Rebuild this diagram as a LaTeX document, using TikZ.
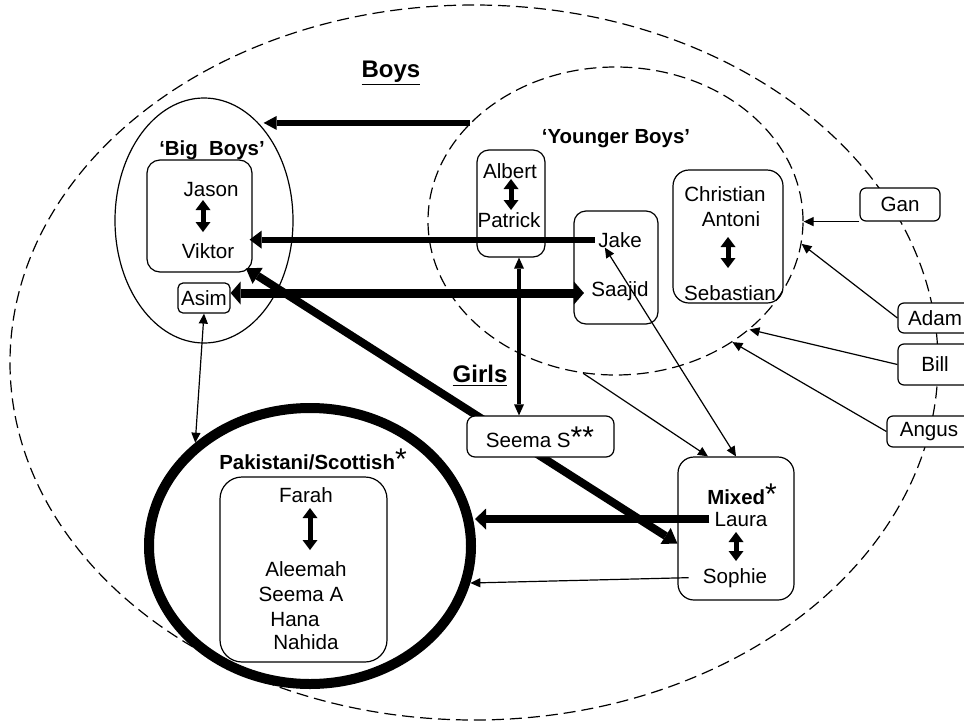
\documentclass[tikz,border=0pt]{standalone}
\usepackage{fontspec}
\setmainfont{Liberation Sans}
\usetikzlibrary{arrows.meta,shapes.geometric}
\newcommand{\myast}{{\fontsize{15pt}{15pt}\selectfont\mdseries *}}
\begin{document}
\begin{tikzpicture}[x=0.5pt,y=-0.5pt,
  every node/.style={font=\fontsize{10.3pt}{12pt}\selectfont},
  lbl/.style={inner sep=0pt, anchor=base},
  hd/.style={lbl, font=\fontsize{10.2pt}{12pt}\selectfont\bfseries},
  bigl/.style={lbl, font=\fontsize{12pt}{14pt}\selectfont\bfseries},
  rbox/.style={draw, line width=0.6pt, rounded corners=#1, inner sep=0pt},
  rbox/.default=6pt,
  oval/.style={ellipse, draw, inner sep=0pt},
  dsh/.style={dash pattern=on 6pt off 3pt, line width=0.6pt},
  thinar/.style={line width=0.6pt, -{Triangle[length=5pt,width=4.5pt]}},
  thindbl/.style={line width=0.6pt, {Triangle[length=5pt,width=4.5pt]}-{Triangle[length=5pt,width=4.5pt]}},
  inarr/.style={line width=2.5pt, {Triangle[length=5pt,width=7.5pt,line width=0pt]}-{Triangle[length=5pt,width=7.5pt,line width=0pt]}}
]
\useasboundingbox (0,0) rectangle (964,723);
\clip (0,0) rectangle (964,723);

% ellipses
\node[oval, dsh, minimum width=464pt, minimum height=357.5pt] (outer) at (474,362.5) {};
\node[oval, dsh, minimum width=187.5pt, minimum height=154pt] (yb) at (615.5,221) {};
\node[oval, line width=0.6pt, minimum width=89pt, minimum height=122.5pt] (bb) at (204,220.5) {};
\node[oval, line width=5pt, minimum width=161pt, minimum height=138pt] (pak) at (310,546) {};

% boxes
\node[rbox=6.5pt, minimum width=52.5pt, minimum height=56pt] (bjv) at (199.5,216) {};
\node[rbox=2.5pt, minimum width=26pt, minimum height=15pt] (asim) at (204,298) {Asim};
\node[rbox=6pt, minimum width=34pt, minimum height=53.5pt] (bap) at (511,203.5) {};
\node[rbox=6pt, minimum width=42pt, minimum height=56.5pt] (bjs) at (616,267.5) {};
\node[rbox=8pt, minimum width=55pt, minimum height=66.5pt] (bcs) at (728,236.5) {};
\node[rbox=3pt, fill=white, minimum width=40pt, minimum height=16.5pt] (gan) at (900,204.5) {Gan};
\node[rbox=3pt, fill=white, minimum width=37pt, minimum height=15pt] (adam) at (935,318) {Adam};
\node[rbox=3pt, fill=white, minimum width=37pt, minimum height=20.5pt] (bill) at (935,364.5) {Bill};
\node[rbox=3pt, fill=white, minimum width=42pt, minimum height=15.5pt] (angus) at (929,431.5) {Angus};
\node[rbox=8pt, minimum width=58pt, minimum height=71.5pt] (mbox) at (736,528.5) {};
\node[rbox=11pt, minimum width=83.5pt, minimum height=92.5pt] (fbox) at (303.5,569.5) {};

% headings
\node[bigl] (boys) at (391,77) {\underline{Boys}};
\node[bigl] (girls) at (480,382) {\underline{Girls}};
\node[hd] (bblab) at (212,155) {‘Big\ \ Boys’};
\node[hd] (yblab) at (616,143) {‘Younger Boys’};
\node[hd] (paklab) at (313,469) {Pakistani/Scottish\myast};
\node[hd] (mixlab) at (742,504) {Mixed\myast};

% names
\node[lbl] (jason) at (211,196) {Jason};
\node[lbl] (viktor) at (208,258) {Viktor};
\node[lbl] (albert) at (510,178) {Albert};
\node[lbl] (patrick) at (509,227) {Patrick};
\node[lbl] (jake) at (620,247) {Jake};
\node[lbl] (saajid) at (620,296) {Saajid};
\node[lbl] (christian) at (725,201) {Christian};
\node[lbl] (antoni) at (731,226) {Antoni};
\node[lbl] (sebastian) at (730,300) {Sebastian};
\node[lbl] (laura) at (741,526) {Laura};
\node[lbl] (sophie) at (735,583) {Sophie};
\node[lbl] (farah) at (306,502) {Farah};
\node[lbl] (aleemah) at (306,576) {Aleemah};
\node[lbl] (seemaa) at (301,601) {Seema A};
\node[lbl] (hana) at (295,626) {Hana};
\node[lbl] (nahida) at (306,649) {Nahida};

% in-box double arrows
\coordinate (jv1) at (203,200); \coordinate (jv2) at (203,232);
\coordinate (ap1) at (511,179); \coordinate (ap2) at (511,210);
\coordinate (cs1) at (728,237); \coordinate (cs2) at (728,268);
\coordinate (fa1) at (310,508); \coordinate (fa2) at (310,550);
\coordinate (ls1) at (736,532); \coordinate (ls2) at (736,561);
\draw[inarr] (jv1) -- (jv2);
\draw[inarr] (ap1) -- (ap2);
\draw[inarr] (cs1) -- (cs2);
\draw[inarr] (fa1) -- (fa2);
\draw[inarr] (ls1) -- (ls2);

% connectors
\draw[line width=2.75pt, -{Triangle[length=6.5pt,width=7pt,line width=0pt]}] (yb.146) -- (yb.146 -| bb.57);
\draw[line width=3pt, -{Triangle[length=6pt,width=9pt,line width=0pt]}] ([xshift=-1.5pt]jake.west) -- ([xshift=-1.5pt]jake.west -| bjv.east);
\draw[line width=4.5pt, shorten >=3.5pt, {Triangle[length=5pt,width=11.5pt,line width=0pt]}-{Triangle[length=5pt,width=11.5pt,line width=0pt]}] ([yshift=2.5pt]asim.east) -- ([yshift=2.5pt]asim.east -| saajid.west);
\draw[line width=4pt, shorten <=-4pt, {Triangle[length=7pt,width=9.5pt,line width=0pt]}-{Triangle[length=7pt,width=9.5pt,line width=0pt]}] (bjv.south east) -- ([yshift=-7.5pt]mbox.west);

\node[rbox=4pt, fill=white, minimum width=73.5pt, minimum height=20.5pt] (sbox) at (540.5,436.5) {};
\node[lbl] (seemas) at (540,447) {Seema S\myast\myast};

\draw[line width=1.8pt, {Triangle[length=5.5pt,width=5pt,line width=0pt]}-{Triangle[length=5.5pt,width=5pt,line width=0pt]}] ([xshift=4pt]bap.south) -- ([xshift=4pt]bap.south |- sbox.north);
\draw[thindbl] (asim.south) -- (pak.138);
\draw[line width=3.8pt, shorten >=2pt, -{Triangle[length=5.5pt,width=10.5pt,line width=0pt]}] ([xshift=-2.5pt]laura.west) -- ([xshift=-2.5pt]laura.west -| pak.east);
\draw[thinar] ([xshift=-7pt]sophie.west) -- (pak.-13);
\draw[thindbl] (mbox.north) -- ([xshift=3.5pt]jake.south west);
\draw[thinar] (yb.-102) -- ([xshift=-14pt]mbox.north);
\draw[thinar] (gan.south west) -- (gan.south west -| yb.east);
\draw[thinar] (adam.west) -- (yb.-7);
\draw[thinar] (bill.west) -- (yb.-39);
\draw[thinar] (angus.west) -- (yb.-46);
\end{tikzpicture}
\end{document}
